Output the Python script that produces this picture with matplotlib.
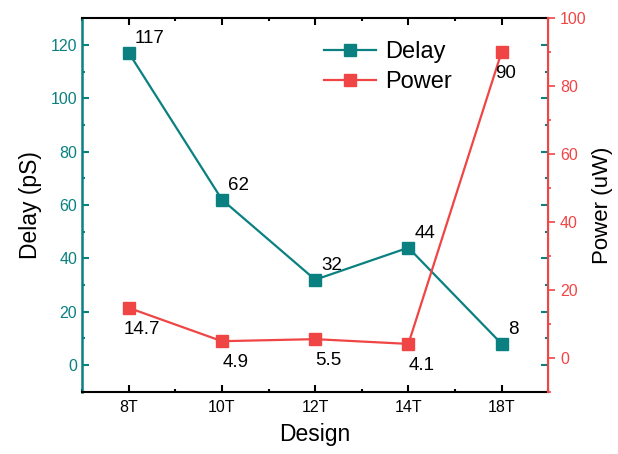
import matplotlib.pyplot as plt
from matplotlib.ticker import MultipleLocator

plt.rcParams['font.family'] = ['Liberation Sans', 'DejaVu Sans']

designs = ['8T', '10T', '12T', '14T', '18T']
delay = [117, 62, 32, 44, 8]
power = [14.7, 4.9, 5.5, 4.1, 90]

teal = '#0a8080'
red = '#f04545'

fig, ax = plt.subplots(figsize=(6.18, 4.54), dpi=100)
fig.subplots_adjust(left=0.133, right=0.887, top=0.96, bottom=0.137)

x = list(range(len(designs)))
l1, = ax.plot(x, delay, color=teal, marker='s', markersize=8, lw=1.6, label='Delay')
ax2 = ax.twinx()
l2, = ax2.plot(x, power, color=red, marker='s', markersize=8, lw=1.6, label='Power')

# labels on the points
for xi, v in zip(x, delay):
    ax.annotate(f'{v:g}', (xi, v), xytext=(4.5, 4), textcoords='offset points',
                fontsize=13.5, ha='left', va='bottom')
for xi, v in zip(x, power):
    if xi == 4:
        ax2.annotate(f'{v:g}', (xi, v), xytext=(3, -9.5), textcoords='offset points',
                     fontsize=13.5, ha='center', va='top')
    else:
        ax2.annotate(f'{v:g}', (xi, v), xytext=(9.5, -9.5), textcoords='offset points',
                     fontsize=13.5, ha='center', va='top')

ax.set_xlim(-0.5, 4.5)
ax.set_xticks(x)
ax.set_xticklabels(designs)
ax.xaxis.set_minor_locator(MultipleLocator(0.5))
ax.set_ylim(-10, 130)
ax.yaxis.set_major_locator(MultipleLocator(20))
ax.yaxis.set_minor_locator(MultipleLocator(10))
ax2.set_ylim(-10, 100)
ax2.yaxis.set_major_locator(MultipleLocator(20))
ax2.yaxis.set_minor_locator(MultipleLocator(10))

ax.tick_params(axis='x', which='both', direction='in', top=True, labelsize=11.5, width=1.5, pad=6)
ax.tick_params(axis='x', which='major', length=5)
ax.tick_params(axis='x', which='minor', length=2.5)
ax.tick_params(axis='y', which='both', direction='in', right=True, colors=teal,
               labelsize=11.5, width=1.5)
ax.tick_params(axis='y', which='major', length=5)
ax.tick_params(axis='y', which='minor', length=2.5)
ax2.tick_params(axis='y', which='both', direction='out', colors=red, labelsize=11.5, width=1.2)
ax2.tick_params(axis='y', which='major', length=5)
ax2.tick_params(axis='y', which='minor', length=2.5)

for s in ['top', 'bottom']:
    ax.spines[s].set_linewidth(1.5)
ax.spines['left'].set_color(teal)
ax.spines['left'].set_linewidth(1.8)
ax2.spines['right'].set_color(red)
ax2.spines['right'].set_linewidth(1.5)
ax2.spines['left'].set_visible(False)
ax2.spines['top'].set_visible(False)
ax2.spines['bottom'].set_visible(False)

ax.set_xlabel('Design', fontsize=16.5, labelpad=6)
ax.set_ylabel('Delay (pS)', fontsize=16.5, labelpad=6)
ax2.set_ylabel('Power (uW)', fontsize=16, labelpad=4)

ax.legend([l1, l2], ['Delay', 'Power'], loc='upper right', bbox_to_anchor=(0.84, 0.995),
          frameon=False, fontsize=17, handlelength=2.2, handletextpad=0.4,
          labelspacing=0.32)

fig.savefig('out.png', dpi=100)
